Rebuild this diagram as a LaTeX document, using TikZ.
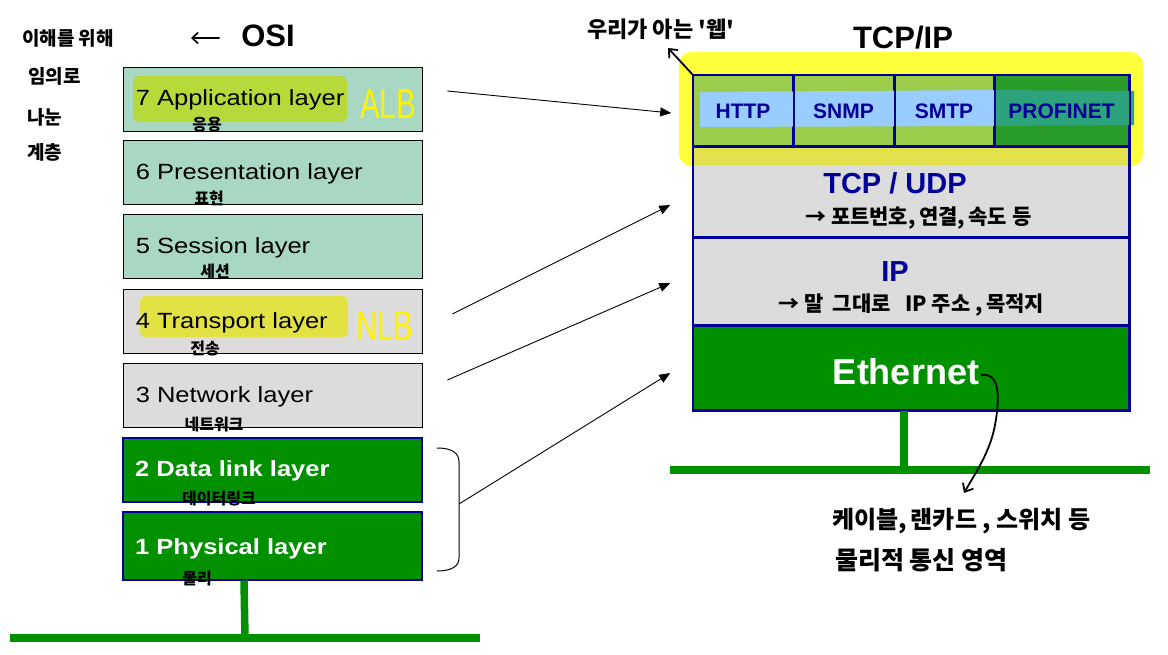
\documentclass[tikz,border=0pt]{standalone}
\usepackage{fontspec}
\setmainfont{Liberation Sans}
\newfontfamily\osif[FakeStretch=1.16]{Liberation Sans}
\newfontfamily\kr{Noto Sans CJK KR}
\usetikzlibrary{arrows.meta,calc}
\definecolor{tealbox}{HTML}{A8D8C4}
\definecolor{graybox}{HTML}{DCDCDC}
\definecolor{grn}{HTML}{009000}
\definecolor{dblue}{HTML}{000099}
\definecolor{hlgreen}{HTML}{B6DA3A}
\definecolor{hlgray}{HTML}{E2E244}
\definecolor{appcell}{HTML}{9BCD4B}
\definecolor{profcell}{HTML}{289B28}
\definecolor{hlyel}{HTML}{FFFF3C}
\definecolor{hlyelgray}{HTML}{E4E24C}
\definecolor{band}{HTML}{99CCFF}
\definecolor{bandprof}{HTML}{2CA37C}
\begin{document}
\begin{tikzpicture}[x=1pt,y=-1pt,
  osibox/.style={draw, line width=0.8pt, minimum width=299pt, minimum height=64pt, inner sep=0pt},
  greenbox/.style={osibox, fill=grn, draw=dblue, line width=2pt},
  ositxt/.style={anchor=west, inner sep=0pt, font=\osif\fontsize{22}{24}\selectfont},
  osibold/.style={ositxt, text=white, font=\osif\bfseries\fontsize{22}{24}\selectfont},
  krnote/.style={inner sep=0pt, font=\kr\bfseries\fontsize{16}{18}\selectfont},
  krbig/.style={inner sep=0pt, font=\kr\bfseries\fontsize{21}{24}\selectfont},
  krleft/.style={inner sep=0pt, font=\kr\bfseries\fontsize{19}{21}\selectfont},
  yelnote/.style={inner sep=0pt, text=yellow, font=\fontsize{42}{42}\selectfont},
  cell/.style={draw=dblue, line width=1.5pt, minimum height=71pt, inner sep=0pt},
  row/.style={draw=dblue, line width=1.5pt, minimum width=436pt, inner sep=0pt},
  celltxt/.style={text=dblue, font=\bfseries\fontsize{21}{24}\selectfont},
  rowtxt/.style={text=dblue, font=\bfseries\fontsize{29}{32}\selectfont},
  arr/.style={-{Triangle[length=11pt,width=9pt]}, line width=0.9pt},
  hand/.style={line width=1.8pt, line cap=round, -{Straight Barb[length=7pt,width=12pt]}},
  gline/.style={draw=grn, line width=7.5pt}
]
\useasboundingbox (0,0) rectangle (1168,654);

% ---------- OSI boxes ----------
\node[osibox, fill=tealbox] (L7) at (272.5,99) {};
\node[osibox, fill=tealbox] (L6) at (272.5,172.5) {};
\node[osibox, fill=tealbox] (L5) at (272.5,246.5) {};
\node[osibox, fill=graybox] (L4) at (272.5,321) {};
\node[osibox, fill=graybox] (L3) at (272.5,395.5) {};
\node[greenbox] (L2) at (272.5,469.5) {};
\node[greenbox, minimum height=68pt] (L1) at (272.5,545.5) {};

% highlights
\fill[hlgreen, rounded corners=6pt] (133,76) rectangle (347,122);
\fill[hlgray, rounded corners=6pt] (140,296) rectangle (348,337);

% texts
\node[ositxt] (t7) at ($(L7.west)+(13,1)$) {7 Application layer};
\node[ositxt] (t6) at ($(L6.west)+(13,1)$) {6 Presentation layer};
\node[ositxt] (t5) at ($(L5.west)+(13,1)$) {5 Session layer};
\node[ositxt] (t4) at ($(L4.west)+(13,2)$) {4 Transport layer};
\node[ositxt] (t3) at ($(L3.west)+(13,1)$) {3 Network layer};
\node[osibold] (t2) at ($(L2.west)+(13,1)$) {2 Data link layer};
\node[osibold] (t1) at ($(L1.west)+(13,3)$) {1 Physical layer};

\node[krnote] (k7) at (207,125) {응용};
\node[krnote] (k6) at (209,198) {표현};
\node[krnote] (k5) at (215,271) {세션};
\node[krnote] (k4) at (205,349) {전송};
\node[krnote] (k3) at (214,424) {네트워크};
\node[krnote] (k2) at (219,499) {데이터링크};
\node[krnote] (k1) at (197,579) {물리};

\node[yelnote] (alb) at (388,104) {\scalebox{0.7}[1]{ALB}};
\node[yelnote] (nlb) at (385,326) {\scalebox{0.7}[1]{NLB}};

% left ground lines
\draw[gline] ($(L1.south west)+(122,0)$) -- (245,638);
\draw[gline] (10,638) -- (480,638);

% titles
\node[font=\bfseries\fontsize{31}{34}\selectfont, inner sep=0pt] (osi) at (268,36) {OSI};
\coordinate (osiarr) at (191,38);
\draw[line width=1.6pt, line cap=round, -{Straight Barb[length=6pt,width=11pt]}] ($(osi.west)+(-22,2)$) -- (osiarr);

\node[krleft, anchor=west] (n1) at (22,38) {이해를 위해};
\node[krleft, anchor=west] (n2) at (28,76) {임의로};
\node[krleft, anchor=west] (n3) at (27,117) {나눈};
\node[krleft, anchor=west] (n4) at (27,152) {계층};

\node[font=\bfseries\fontsize{31}{34}\selectfont, inner sep=0pt] (tcpip) at (903,38) {TCP/IP};

% ---------- TCP/IP stack ----------
\fill[hlyel, rounded corners=12pt] (679,52) rectangle (1143,166);
\node[cell, fill=appcell, minimum width=100pt] (c1) at (743,110.5) {};
\node[cell, fill=appcell, minimum width=101pt] (c2) at (843.5,110.5) {};
\node[cell, fill=appcell, minimum width=100pt] (c3) at (944,110.5) {};
\node[cell, fill=profcell, minimum width=135pt] (c4) at (1061.5,110.5) {};
\node[row, fill=graybox, minimum height=91pt] (tcp) at (911,191.5) {};
\node[row, fill=graybox, minimum height=88pt] (ip) at (911,281) {};
\node[row, fill=grn, minimum height=85pt] (eth) at (911,367.5) {};

\fill[hlyelgray] (694,147) rectangle (1128,165);
\fill[band] (700,92) -- (994,90) -- (994,126) -- (700,127) -- cycle;
\fill[bandprof] (994,90) -- (1134,91) -- (1134,125) -- (994,126) -- cycle;

\draw[dblue, line width=1.5pt] (c1.north west) rectangle (eth.south east);
\draw[dblue, line width=1.5pt] (c1.north east) -- (c1.south east);
\draw[dblue, line width=1.5pt] (c2.north east) -- (c2.south east);
\draw[dblue, line width=1.5pt] (c3.north east) -- (c3.south east);
\draw[dblue, line width=1.5pt] (c1.south west) -- (c4.south east);
\draw[dblue, line width=1.5pt] (tcp.south west) -- (tcp.south east);
\draw[dblue, line width=1.5pt] (ip.south west) -- (ip.south east);

\node[celltxt] (http) at ($(c1)+(0,1)$) {HTTP};
\node[celltxt] (snmp) at ($(c2)+(0,1)$) {SNMP};
\node[celltxt] (smtp) at ($(c3)+(0,1)$) {SMTP};
\node[celltxt] (prof) at ($(c4)+(0,1)$) {PROFINET};
\node[rowtxt, inner sep=0pt] (tcpt) at (895,183) {TCP / UDP};
\node[rowtxt, inner sep=0pt] (ipt) at (895,272) {IP};
\node[text=white, font=\bfseries\fontsize{36}{40}\selectfont, inner sep=0pt] (etht) at (906,372) {Ethernet};

\node[krbig, anchor=west] (tcpn) at (805,218) {→ 포트번호,\,연결,\,속도 등};
\node[krbig, anchor=west] (ipn) at (778,305) {→ 말\ \ 그대로\ \ \ IP 주소 ,\,목적지};

% right ground lines
\draw[gline] (eth.south -| 904,0) -- (904,470);
\draw[gline] (670,470) -- (1150,470);

% ---------- notes ----------
\node[inner sep=0pt, anchor=west, font=\kr\bfseries\fontsize{22}{26}\selectfont] (web) at (587,29) {우리가 아는 '웹'};
\draw[hand] ($(c1.north west)+(1,1)$) -- (668,48);

\node[inner sep=0pt, anchor=west, font=\kr\bfseries\fontsize{24}{28}\selectfont] (bt1) at (832,521) {케이블,\,랜카드\ ,\ 스위치 등};
\node[inner sep=0pt, anchor=west, font=\kr\bfseries\fontsize{25}{28}\selectfont] (bt2) at (835,560) {물리적 통신 영역};
\coordinate (curveend) at (964,493);
\draw[hand] ($(etht.east)+(2,3)$) .. controls (1000,372) and (1000,398) .. (995,425)
  .. controls (990,452) and (976,472) .. (curveend);

% brace
\draw[line width=1pt] (437,448) .. controls (452,448) and (459,453) .. (459,462) -- (459,558)
  .. controls (459,566) and (452,571) .. (437,571);
\coordinate (bt) at (459,504);

% connectors
\draw[arr] ($(L7.east)+(25,-8)$) -- ($(c1.west)+(-21,2.5)$);
\draw[arr] ($(L4.east)+(30,-7)$) -- ($(tcp.west)+(-22,13.5)$);
\draw[arr] ($(L3.east)+(25,-15.5)$) -- ($(ip.west)+(-22,2)$);
\draw[arr] (bt) -- ($(eth.west)+(-22,5.5)$);
\end{tikzpicture}
\end{document}
